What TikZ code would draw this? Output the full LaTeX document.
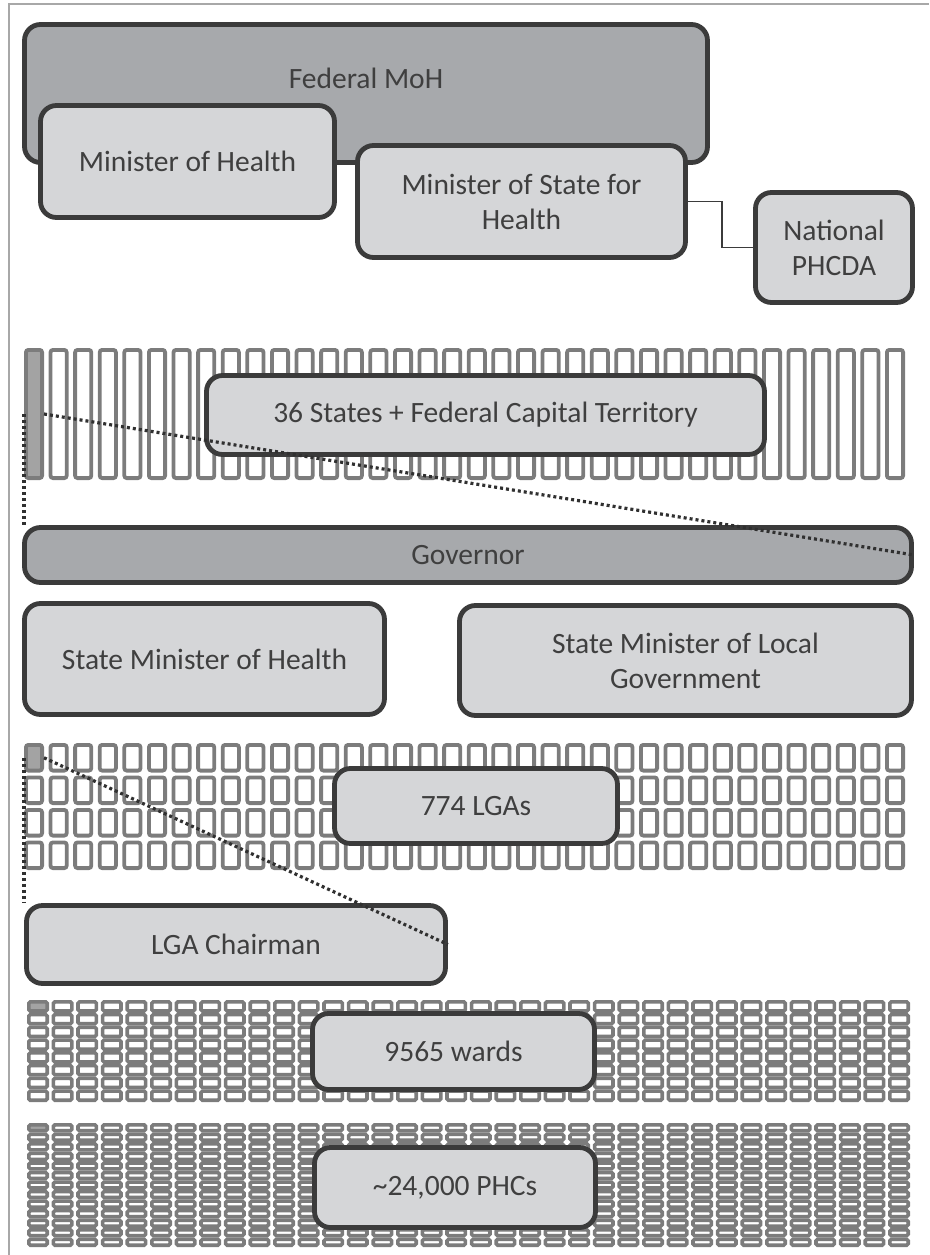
\documentclass[tikz,border=0pt]{standalone}
\usepackage{fontspec}
\setmainfont{Carlito}
\definecolor{darkfill}{HTML}{A7A9AC}
\definecolor{lightfill}{HTML}{D5D6D8}
\definecolor{boxline}{HTML}{3B3B3B}
\definecolor{txt}{HTML}{3F3F3F}
\definecolor{cellline}{HTML}{7C7C7C}
\definecolor{cellgray}{HTML}{A3A3A3}
\definecolor{dotc}{HTML}{303030}
\definecolor{framec}{HTML}{A8A8A8}
\begin{document}
\begin{tikzpicture}[x=1pt,y=-1pt,
  lbl/.style={text=txt, font=\fontsize{29.5}{35}\selectfont, align=center, inner sep=0pt},
  box/.style={lbl, draw=boxline, line width=4.8pt, rounded corners=16pt, fill=lightfill},
  darkbox/.style={box, fill=darkfill},
  cell/.style={draw=cellline, line width=3.8pt, fill=white, rounded corners=2.5pt},
  firstcell/.style={cell, fill=cellgray, inner sep=0pt},
  smallcell/.style={draw=cellline, line width=3.6pt, fill=white, rounded corners=1.5pt},
  zoomline/.style={draw=dotc, line width=3.2pt, dash pattern=on 3pt off 3pt},
  link/.style={draw=boxline, line width=1.4pt},
]
\useasboundingbox (0,0) rectangle (929,1255);

% page frame (top and left rules)
\draw[framec, line width=1.5pt] (9,1255) -- (9,4) -- (929,4);

% ---------- federal level ----------
\node[darkbox, minimum width=683pt, minimum height=138pt] (fmoh) at (366,93.5) {};
\node[lbl] (fmohtext) at (366,78) {Federal MoH};
\node[box, minimum width=294pt, minimum height=112pt] (moh) at (187.5,161.5) {Minister of Health};
\node[box, minimum width=328pt, minimum height=112pt] (mosh) at (521.5,201.5) {Minister of State for\\Health};
\node[box, minimum width=157pt, minimum height=110pt] (phcda) at (834,247.5) {National\\PHCDA};
\draw[link] (mosh.east) -- ++(34,0) |- (phcda.west);

% ---------- 36 states + FCT ----------
\node[firstcell, minimum width=16.2pt, minimum height=128.2pt] (st1) at (34,414) {};
\foreach \i in {1,...,35} {
  \pgfmathsetmacro\xl{24+\i*24.6}
  \draw[cell] (\xl+1.9,349.9) rectangle (\xl+18.1,478.1);
}
\node[box, minimum width=558pt, minimum height=79pt] (states) at (485.5,415) {36 States + Federal Capital Territory};

\node[darkbox, minimum width=887pt, minimum height=55pt] (gov) at (468,555) {Governor};
\node[box, minimum width=360pt, minimum height=111pt] (smoh) at (204.5,659) {State Minister of Health};
\node[box, minimum width=452pt, minimum height=110pt] (smlg) at (685.5,660.5) {State Minister of Local\\Government};

% ---------- 774 LGAs ----------
\node[firstcell, minimum width=16.2pt, minimum height=25.7pt] (lga1) at (34,757.75) {};
\foreach \r in {0,...,3} {
  \foreach \i in {0,...,35} {
    \pgfmathsetmacro\xl{24+\i*24.6}
    \pgfmathsetmacro\yt{743+\r*32.5}
    \ifnum\numexpr\r+\i\relax>0
      \draw[cell] (\xl+1.9,\yt+1.9) rectangle (\xl+18.1,\yt+27.6);
    \fi
  }
}
\node[box, minimum width=283pt, minimum height=75pt] (lgas) at (476,806) {774 LGAs};
\node[box, minimum width=419pt, minimum height=78pt] (chair) at (236,944.5) {LGA Chairman};

% ---------- 9565 wards ----------
\foreach \r in {0,...,7} {
  \foreach \i in {0,...,35} {
    \pgfmathsetmacro\xl{27+\i*24.6}
    \pgfmathsetmacro\yt{1000+\r*12.75}
    \ifnum\numexpr\r+\i\relax=0
      \draw[smallcell, fill=cellgray] (\xl+1.8,\yt+1.8) rectangle (\xl+20.2,\yt+11);
    \else
      \draw[smallcell] (\xl+1.8,\yt+1.8) rectangle (\xl+20.2,\yt+11);
    \fi
  }
}
\node[box, minimum width=282pt, minimum height=76pt] (wards) at (453.5,1051.5) {9565 wards};

% ---------- ~24,000 PHCs ----------
\foreach \r in {0,...,12} {
  \foreach \i in {0,...,35} {
    \pgfmathsetmacro\xl{27+\i*24.6}
    \pgfmathsetmacro\yt{1123+\r*9.54}
    \ifnum\numexpr\r+\i\relax=0
      \draw[smallcell, fill=cellgray] (\xl+1.8,\yt+1.8) rectangle (\xl+20.2,\yt+7.74);
    \else
      \draw[smallcell] (\xl+1.8,\yt+1.8) rectangle (\xl+20.2,\yt+7.74);
    \fi
  }
}
\node[box, minimum width=281pt, minimum height=80pt] (phcs) at (455,1187.5) {\textasciitilde 24,000 PHCs};

% ---------- zoom-in guides ----------
\draw[zoomline] (st1.west) -- (st1.west |- gov.north);
\draw[zoomline] (st1.east) -- (gov.east);
\draw[zoomline] (lga1.west) -- (lga1.west |- chair.north);
\draw[zoomline] (lga1.east) -- (chair.east);
\end{tikzpicture}
\end{document}
